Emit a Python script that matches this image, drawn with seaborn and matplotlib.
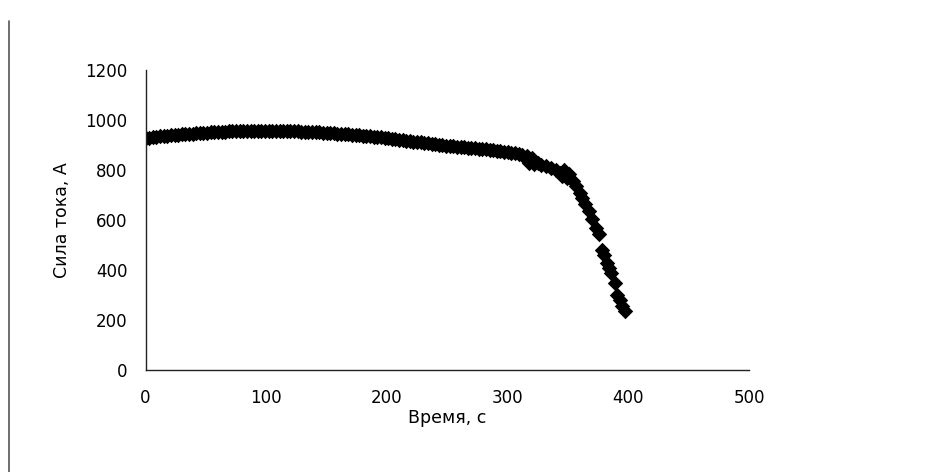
import matplotlib
matplotlib.use("Agg")
import matplotlib.pyplot as plt
import seaborn as sns
import pandas as pd

# время, с
time_s = [
    0, 3, 6, 9, 12, 15, 18, 21, 24, 27,
    30, 33, 36, 39, 42, 45, 48, 51, 54, 57,
    60, 63, 66, 69, 72, 75, 78, 81, 84, 87,
    90, 93, 96, 99, 102, 105, 108, 111, 114, 117,
    120, 123, 126, 129, 132, 135, 138, 141, 144, 147,
    150, 153, 156, 159, 162, 165, 168, 171, 174, 177,
    180, 183, 186, 189, 192, 195, 198, 201, 204, 207,
    210, 213, 216, 219, 222, 225, 228, 231, 234, 237,
    240, 243, 246, 249, 252, 255, 258, 261, 264, 267,
    270, 273, 276, 279, 282, 285, 288, 291, 294, 297,
    300, 303, 306, 309,
    312, 316, 318, 320, 322, 325, 328, 332, 336, 340,
    343, 345, 347, 349, 351, 354, 357, 360, 362, 364,
    367, 370, 373, 376, 378, 380, 382, 384, 386, 389,
    391, 393, 395, 397,
]
# сила тока, А
current_a = [
    928, 930, 932, 934, 935, 937, 938, 940, 941, 942,
    943, 944, 945, 946, 947, 948, 949, 950, 951, 952,
    953, 953, 954, 955, 955, 956, 956, 956, 957, 957,
    957, 957, 957, 957, 957, 957, 957, 957, 956, 956,
    956, 955, 955, 954, 954, 953, 952, 952, 951, 950,
    949, 948, 947, 946, 945, 944, 943, 942, 941, 939,
    938, 937, 935, 934, 932, 931, 929, 927, 925, 923,
    922, 920, 918, 916, 914, 913, 911, 909, 907, 905,
    904, 902, 900, 898, 897, 895, 894, 892, 891, 889,
    888, 887, 885, 884, 883, 881, 880, 878, 876, 874,
    872, 870, 867, 864,
    862, 855, 830, 848, 825, 828, 822, 815, 808, 800,
    790, 775, 800, 770, 785, 755, 735, 710, 690, 665,
    635, 605, 570, 545, 480, 460, 430, 410, 390, 350,
    300, 280, 255, 238,
]

df = pd.DataFrame({"t": time_s, "i": current_a})

sns.set_style("white")
plt.rcParams["font.family"] = ["DejaVu Sans"]

fig = plt.figure(figsize=(9.39, 4.72), dpi=100)
ax = fig.add_axes([0.155, 0.216, 0.6427, 0.6356])

sns.scatterplot(data=df, x="t", y="i", marker="D", s=62, color="black",
                edgecolor="black", linewidth=0, ax=ax)

ax.set_xlim(0, 500)
ax.set_ylim(0, 1200)
ax.set_xticks([0, 100, 200, 300, 400, 500])
ax.set_yticks([0, 200, 400, 600, 800, 1000, 1200])

for side in ["top", "right"]:
    ax.spines[side].set_visible(False)
for side in ["left", "bottom"]:
    ax.spines[side].set_color("#222222")
    ax.spines[side].set_linewidth(1.0)

ax.tick_params(axis="both", direction="out", length=5, width=1, color="#222222",
               labelsize=12, labelcolor="black")
ax.tick_params(axis="x", pad=9)
ax.tick_params(axis="y", pad=8)

ax.set_xlabel("Время, с", fontsize=12.5, labelpad=1, color="black")
ax.set_ylabel("Сила тока, А", fontsize=12.5, labelpad=10, color="black")

# вертикальная линия слева (край страницы)
fig.add_artist(plt.Line2D([0.0095, 0.0095], [0.0, 0.955], color="#555555", linewidth=1.2))

fig.savefig("out.png", dpi=100, facecolor="white")
